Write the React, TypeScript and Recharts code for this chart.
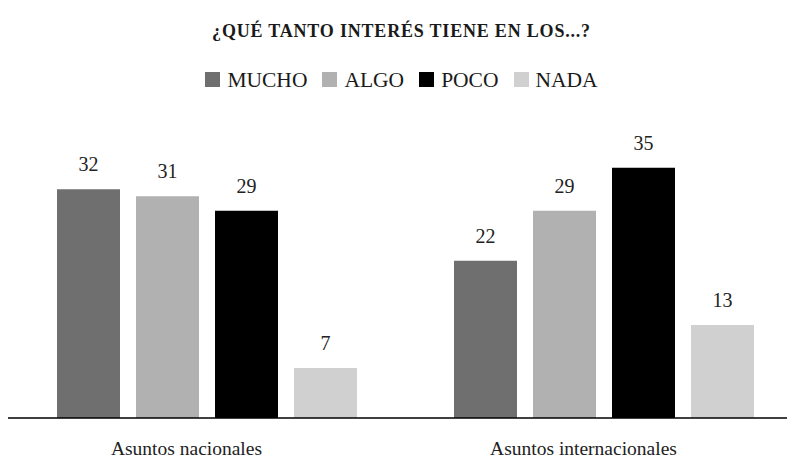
import { BarChart, Bar, XAxis, YAxis, LabelList } from "recharts";

const categories = ["Asuntos nacionales", "Asuntos internacionales"];
const mucho = [32, 22];
const algo = [31, 29];
const poco = [29, 35];
const nada = [7, 13];

const series = [
  { key: "mucho", name: "MUCHO", color: "#6f6f6f", values: mucho },
  { key: "algo", name: "ALGO", color: "#b1b1b1", values: algo },
  { key: "poco", name: "POCO", color: "#000000", values: poco },
  { key: "nada", name: "NADA", color: "#d0d0d0", values: nada },
];

const data = categories.map((c, i) => {
  const row: any = { name: c };
  series.forEach((s) => (row[s.key] = s.values[i]));
  return row;
});

const serif = '"Liberation Serif", "Times New Roman", serif';

const CategoryTick = (props: any) => {
  const { x, y, payload } = props;
  return (
    <text x={x} y={y} dx={-20} dy={29} textAnchor="middle" fontFamily={serif} fontSize={19.5} fill="#222">
      {payload.value}
    </text>
  );
};

const ValueLabel = (props: any) => {
  const { x, y, width, value } = props;
  return (
    <text x={x + width / 2} y={y - 18} textAnchor="middle" fontFamily={serif} fontSize={20} fill="#222">
      {value}
    </text>
  );
};

export default function App() {
  return (
    <div style={{ position: "relative", width: 787, height: 451, overflow: "hidden", fontFamily: serif }}>
      <div
        style={{
          position: "absolute",
          top: 14,
          left: 0,
          width: 787,
          textAlign: "center",
          fontWeight: "bold",
          fontSize: 18,
          lineHeight: "18px",
          letterSpacing: 0.8,
          color: "#1a1a1a",
        }}
      >
        ¿QUÉ TANTO INTERÉS TIENE EN LOS...?
      </div>
      <div
        style={{
          position: "absolute",
          top: 61,
          left: 0,
          width: 787,
          display: "flex",
          justifyContent: "center",
          fontSize: 21.5,
          lineHeight: "22px",
          color: "#1a1a1a",
        }}
      >
        {series.map((s, i) => (
          <span key={s.key} style={{ marginLeft: i === 0 ? 0 : 15, whiteSpace: "nowrap" }}>
            <span
              style={{
                display: "inline-block",
                width: 15,
                height: 15,
                background: s.color,
                marginRight: 7,
                verticalAlign: "baseline",
              }}
            />
            {s.name}
          </span>
        ))}
      </div>
      <BarChart
        width={794}
        height={451}
        data={data}
        margin={{ top: 124, right: 0, left: 0, bottom: 0 }}
        barSize={63}
        barGap={16}
        style={{ fontFamily: serif }}
      >
        <XAxis
          dataKey="name"
          height={41}
          tickLine={false}
          axisLine={{ stroke: "#000", strokeWidth: 1.5 }}
          tick={<CategoryTick />}
          interval={0}
        />
        <YAxis hide domain={[0, 40]} />
        {series.map((s) => (
          <Bar key={s.key} dataKey={s.key} name={s.name} fill={s.color} isAnimationActive={false}>
            <LabelList dataKey={s.key} content={<ValueLabel />} />
          </Bar>
        ))}
      </BarChart>
    </div>
  );
}
